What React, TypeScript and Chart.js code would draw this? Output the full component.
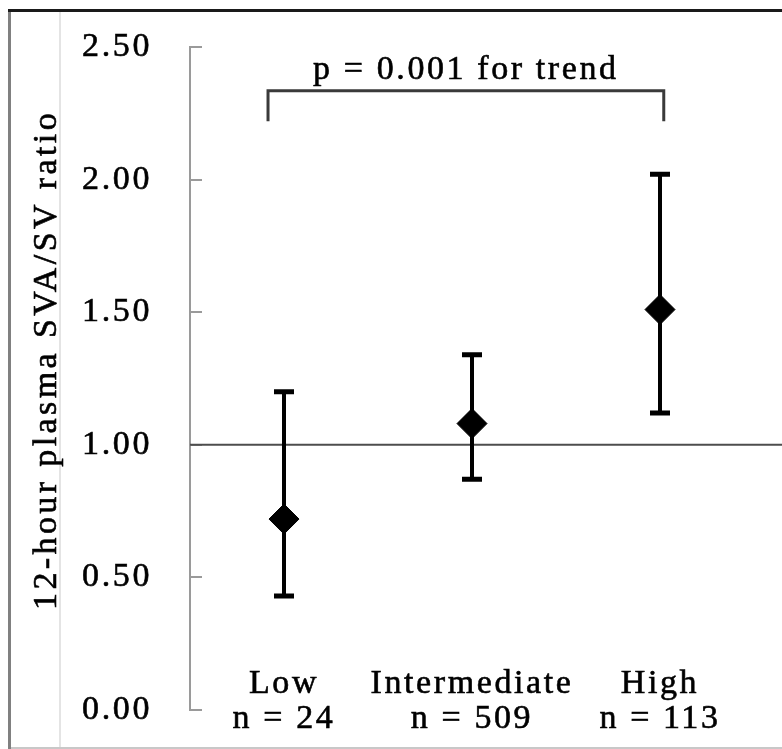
import React, { useEffect, useRef } from "react";
import { Chart, registerables } from "chart.js";

Chart.register(...registerables);

const CATEGORIES: string[][] = [
  ["Low", "n = 24"],
  ["Intermediate", "n = 509"],
  ["High", "n = 113"],
];
const MEANS = [0.72, 1.08, 1.51];
const LOWER = [0.43, 0.87, 1.12];
const UPPER = [1.2, 1.34, 2.02];
const Y_MIN = 0;
const Y_MAX = 2.5;
const Y_STEP = 0.5;
const REF_VALUE = 1.0;
const Y_TITLE = "12-hour plasma SVA/SV ratio";
const TREND_TEXT = "p = 0.001 for trend";
const BRACKET_TOP = 2.335;
const BRACKET_BOTTOM = 2.22;
const BRACKET_FROM = 0;
const BRACKET_TO = 2;
const TITLE_CENTER_VALUE = 1.32;

const FONT_FAMILY = "'Liberation Serif', 'Times New Roman', serif";
const FONT_SIZE = 34;
const LETTER_SPACING = "2.6px";
const TITLE_LETTER_SPACING = "3.4px";
const TEXT_STROKE = 0.6;

const spacingPlugin = {
  id: "spacing",
  beforeUpdate(chart: any) {
    (chart.ctx as any).letterSpacing = LETTER_SPACING;
  },
  beforeDraw(chart: any) {
    (chart.ctx as any).letterSpacing = LETTER_SPACING;
  },
};

const framePlugin = {
  id: "frame",
  beforeDraw(chart: any) {
    const ctx = chart.ctx;
    const W = chart.width;
    const H = chart.height;
    ctx.save();
    ctx.fillStyle = "#ffffff";
    ctx.fillRect(0, 0, W, H);
    ctx.strokeStyle = "#e4e4e4";
    ctx.lineWidth = 2;
    ctx.beginPath();
    ctx.moveTo(60, 12);
    ctx.lineTo(60, H);
    ctx.stroke();
    ctx.strokeStyle = "#c8c8c8";
    ctx.beginPath();
    ctx.moveTo(8, H - 1);
    ctx.lineTo(W, H - 1);
    ctx.stroke();
    ctx.strokeStyle = "#808080";
    ctx.lineWidth = 3;
    ctx.beginPath();
    ctx.moveTo(9.5, 10);
    ctx.lineTo(9.5, H);
    ctx.stroke();
    ctx.strokeStyle = "#1a1a1a";
    ctx.lineWidth = 3;
    ctx.beginPath();
    ctx.moveTo(8, 10.5);
    ctx.lineTo(W, 10.5);
    ctx.stroke();
    ctx.restore();
  },
};

function drawText(ctx: CanvasRenderingContext2D, text: string, x: number, y: number) {
  ctx.fillText(text, x, y);
  ctx.lineWidth = TEXT_STROKE;
  ctx.strokeStyle = "#000000";
  ctx.strokeText(text, x, y);
}

const overlayPlugin = {
  id: "overlay",
  beforeDatasetsDraw(chart: any) {
    const ctx = chart.ctx;
    const x = chart.scales.x;
    const y = chart.scales.y;
    const area = chart.chartArea;
    ctx.save();
    // y-axis title
    ctx.save();
    ctx.fillStyle = "#000000";
    ctx.font = `${FONT_SIZE}px ${FONT_FAMILY}`;
    (ctx as any).letterSpacing = TITLE_LETTER_SPACING;
    ctx.translate(47, y.getPixelForValue(TITLE_CENTER_VALUE));
    ctx.rotate(-Math.PI / 2);
    ctx.textAlign = "center";
    ctx.textBaseline = "middle";
    drawText(ctx, Y_TITLE, 0, 0);
    ctx.restore();
    // reference line
    const ry = y.getPixelForValue(REF_VALUE);
    ctx.strokeStyle = "#4d4d4d";
    ctx.lineWidth = 2;
    ctx.beginPath();
    ctx.moveTo(area.left, ry);
    ctx.lineTo(chart.width, ry);
    ctx.stroke();
    // error bars
    ctx.strokeStyle = "#000000";
    for (let i = 0; i < MEANS.length; i++) {
      const px = x.getPixelForValue(i);
      const yl = y.getPixelForValue(LOWER[i]);
      const yu = y.getPixelForValue(UPPER[i]);
      ctx.lineWidth = 4;
      ctx.beginPath();
      ctx.moveTo(px, yl);
      ctx.lineTo(px, yu);
      ctx.stroke();
      ctx.lineWidth = 5;
      ctx.beginPath();
      ctx.moveTo(px - 10, yl);
      ctx.lineTo(px + 10, yl);
      ctx.moveTo(px - 10, yu);
      ctx.lineTo(px + 10, yu);
      ctx.stroke();
    }
    // bracket
    const step = x.getPixelForValue(1) - x.getPixelForValue(0);
    const bl = x.getPixelForValue(BRACKET_FROM) - step * 0.085;
    const br = x.getPixelForValue(BRACKET_TO) + step * 0.02;
    const bt = y.getPixelForValue(BRACKET_TOP);
    const bb = y.getPixelForValue(BRACKET_BOTTOM);
    ctx.strokeStyle = "#3a3a3a";
    ctx.lineWidth = 3;
    ctx.beginPath();
    ctx.moveTo(bl, bb);
    ctx.lineTo(bl, bt);
    ctx.lineTo(br, bt);
    ctx.lineTo(br, bb);
    ctx.stroke();
    ctx.fillStyle = "#000000";
    ctx.font = `${FONT_SIZE}px ${FONT_FAMILY}`;
    (ctx as any).letterSpacing = LETTER_SPACING;
    ctx.textAlign = "center";
    ctx.textBaseline = "alphabetic";
    drawText(ctx, TREND_TEXT, (bl + br) / 2, bt - 12);
    ctx.restore();
  },
};

export default function App() {
  const canvasRef = useRef<HTMLCanvasElement | null>(null);

  useEffect(() => {
    const canvas = canvasRef.current;
    if (!canvas) return;
    const font = { family: FONT_FAMILY, size: FONT_SIZE };
    const chart = new Chart(canvas, {
      type: "line",
      data: {
        labels: CATEGORIES as any,
        datasets: [
          {
            data: MEANS,
            showLine: false,
            pointStyle: "rectRot",
            pointRadius: 15,
            pointHoverRadius: 15,
            pointBackgroundColor: "#000000",
            pointBorderColor: "#000000",
            pointBorderWidth: 1,
          },
        ],
      },
      options: {
        animation: false,
        responsive: false,
        events: [],
        layout: { padding: { left: 0, top: 47, right: 28, bottom: 0 } },
        plugins: {
          legend: { display: false },
          tooltip: { enabled: false },
          title: { display: false },
        },
        scales: {
          x: {
            type: "category",
            offset: true,
            grid: { display: false, drawTicks: false },
            border: { display: false },
            ticks: {
              color: "#000000",
              textStrokeColor: "#000000",
              textStrokeWidth: TEXT_STROKE,
              font: { ...font, lineHeight: 35 / FONT_SIZE },
              padding: -43,
              maxRotation: 0,
              autoSkip: false,
            },
            afterFit(scale: any) {
              scale.height = 39;
              scale.paddingLeft = 0;
              scale.paddingRight = 0;
              scale.paddingTop = 0;
              scale.paddingBottom = 0;
              scale._computeLabelArea = () => undefined;
            },
          },
          y: {
            min: Y_MIN,
            max: Y_MAX,
            grid: {
              display: true,
              drawOnChartArea: false,
              drawTicks: true,
              tickLength: -12,
              color: "#9a9a9a",
              lineWidth: 2,
            },
            border: { display: true, color: "#9a9a9a", width: 2 },
            ticks: {
              stepSize: Y_STEP,
              color: "#000000",
              textStrokeColor: "#000000",
              textStrokeWidth: TEXT_STROKE,
              font,
              padding: 50,
              callback: (v: any) => Number(v).toFixed(2),
            },
            title: { display: false },
            afterFit(scale: any) {
              scale.width = 190;
              scale.paddingTop = 0;
              scale.paddingBottom = 0;
              scale.paddingLeft = 0;
              scale.paddingRight = 0;
            },
          },
        },
      } as any,
      plugins: [spacingPlugin, framePlugin, overlayPlugin],
    });
    return () => chart.destroy();
  }, []);

  return (
    <div style={{ position: "absolute", left: 0, top: 0, width: 782, height: 749 }}>
      <canvas ref={canvasRef} width={782} height={749} style={{ display: "block" }} />
    </div>
  );
}
